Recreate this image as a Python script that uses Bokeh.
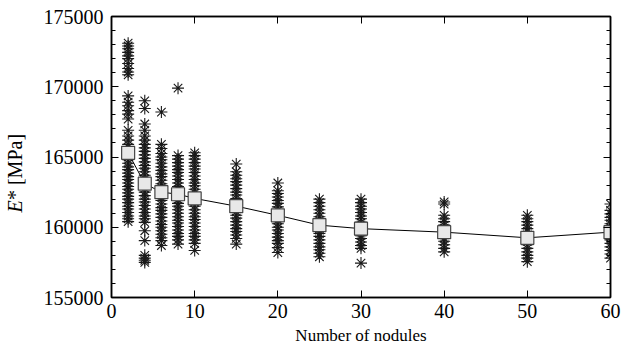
import math
from bokeh.plotting import figure
from bokeh.models import (LinearAxis, FixedTicker, BasicTickFormatter, Range1d, Label)
from bokeh.embed import file_html
from bokeh.resources import INLINE

# ---------------- data ----------------
nodules = [2, 4, 6, 8, 10, 15, 20, 25, 30, 40, 50, 60]

samples_2 = [173100, 172900, 172700, 172450, 172200, 172000, 171650, 171300, 171050, 170850,
             169350, 168900, 168650, 168300, 168050, 167700, 166900,
             166500, 166200, 165900, 165700, 165450, 165200, 165000, 164800, 164550, 164300,
             164100, 163850, 163600, 163400, 163150, 162900, 162700, 162450, 162200, 162000,
             161750, 161500, 161300, 161050, 160800, 160600, 160400]
samples_4 = [169000, 168450, 167350, 166900, 166500, 166200, 165900, 165650, 165400, 165150,
             164900, 164650, 164400, 164200, 163950, 163700, 163450, 163200, 163000, 162750,
             162500, 162250, 162000, 161800, 161550, 161300, 161050, 160800, 160600, 160350,
             159750, 159050, 158000, 157800, 157650, 157500]
samples_6 = [168200, 165900, 165600, 165250, 165000, 164800, 164550, 164300, 164050, 163800,
             163600, 163350, 163100, 162850, 162600, 162400, 162150, 161900, 161650, 161400,
             161200, 160950, 160700, 160450, 160200, 160000, 159750, 159500, 159250, 159050,
             158700]
samples_8 = [169900, 165100, 164850, 164600, 164350, 164100, 163900, 163650, 163400, 163150,
             162900, 162700, 162450, 162200, 161950, 161700, 161500, 161250, 161000, 160750,
             160500, 160300, 160050, 159800, 159550, 159350, 159100, 158800]
samples_10 = [165300, 165100, 164850, 164600, 164350, 164150, 163900, 163650, 163400, 163150,
              162950, 162700, 162450, 162200, 161950, 161750, 161500, 161250, 161000, 160750,
              160550, 160300, 160050, 159800, 159550, 159350, 159100, 158850, 158350]
samples_15 = [164500, 163950, 163700, 163450, 163250, 163000, 162750, 162500, 162300, 162050,
              161800, 161600, 161350, 161100, 160850, 160650, 160400, 160150, 159900, 159700,
              159450, 159200, 158800]
samples_20 = [163150, 162600, 162400, 162150, 161900, 161700, 161450, 161200, 160950, 160750,
              160500, 160250, 160000, 159800, 159550, 159300, 159050, 158850, 158550, 158200]
samples_25 = [162000, 161750, 161500, 161250, 161000, 160750, 160500, 160250, 160050, 159800,
              159550, 159350, 159100, 158850, 158600, 158400, 158150, 157900]
samples_30 = [162000, 161750, 161500, 161300, 161050, 160800, 160600, 160350, 160100, 159900,
              159650, 159400, 159200, 158950, 158700, 158500, 157450]
samples_40 = [161800, 161650, 160850, 160600, 160400, 160150, 159900, 159700, 159450, 159200,
              159000, 158750, 158500, 158250]
samples_50 = [160850, 160600, 160400, 160150, 159900, 159700, 159450, 159200, 159000, 158750,
              158500, 158250, 158000, 157800, 157550]
samples_60 = [161650, 161200, 160950, 160700, 160500, 160250, 160000, 159800, 159550, 159300,
              159100, 158850, 158600, 158350, 158100, 157800]

mean_E = [165300, 163100, 162500, 162350, 162050, 161500, 160850, 160150, 159900, 159650,
          159250, 159650]

y_ticks = [155000, 160000, 165000, 170000, 175000]
x_ticks = [0, 10, 20, 30, 40, 50, 60]

# ---------------- build ----------------
all_samples = [samples_2, samples_4, samples_6, samples_8, samples_10, samples_15,
               samples_20, samples_25, samples_30, samples_40, samples_50, samples_60]
sx, sy = [], []
for n, vals in zip(nodules, all_samples):
    for v in vals:
        sx.append(n)
        sy.append(v)

FONT = "Liberation Serif"

p = figure(width=624, height=350, output_backend="svg", toolbar_location=None,
           x_range=Range1d(0, 60), y_range=Range1d(155000, 175000),
           min_border_left=111, min_border_right=14, min_border_top=16, min_border_bottom=53,
           x_axis_label="Number of nodules", y_axis_label="*  [MPa]   ")
p.background_fill_color = "white"
p.border_fill_color = "white"
p.grid.visible = False
p.outline_line_color = "black"
p.outline_line_width = 1.5

p.scatter(sx, sy, marker="asterisk", size=12, line_color="#1a1a1a", line_width=1.1)
p.line(nodules, mean_E, line_color="black", line_width=1)
p.scatter(nodules, mean_E, marker="square", size=13, fill_color="#e8e8e8",
          line_color="#444444", line_width=1.2)

minor_y = list(range(155000, 175001, 1000))

def style(ax):
    ax.axis_line_color = "black"
    ax.axis_line_width = 1.5
    ax.major_tick_in = 7
    ax.major_tick_out = 0
    ax.minor_tick_in = 4
    ax.minor_tick_out = 0
    ax.major_tick_line_color = "black"
    ax.minor_tick_line_color = "black"
    ax.major_label_text_font = FONT
    ax.major_label_text_font_size = "20px"
    ax.major_label_text_color = "black"
    ax.axis_label_text_font = FONT
    ax.axis_label_text_font_size = "17px"
    ax.axis_label_text_font_style = "normal"
    ax.axis_label_text_color = "black"

xa = p.xaxis[0]
xa.ticker = FixedTicker(ticks=x_ticks)
style(xa)
xa.minor_tick_in = 0
xa.major_label_standoff = 6
xa.axis_label_standoff = 5

ya = p.yaxis[0]
ya.ticker = FixedTicker(ticks=y_ticks, minor_ticks=minor_y)
ya.formatter = BasicTickFormatter(use_scientific=False)
style(ya)
ya.axis_label_text_font_size = "20px"
ya.major_label_standoff = 8
ya.axis_label_standoff = 15

top = LinearAxis(ticker=FixedTicker(ticks=x_ticks),
                 major_label_overrides={t: "" for t in x_ticks})
style(top)
top.minor_tick_in = 0
top.major_label_standoff = 0
p.add_layout(top, "above")

right = LinearAxis(ticker=FixedTicker(ticks=y_ticks, minor_ticks=minor_y),
                   major_label_overrides={t: "" for t in y_ticks})
style(right)
right.major_label_standoff = 0
p.add_layout(right, "right")

# italic E of the y-axis label, placed via the top side panel
p.add_layout(Label(x=-97, y=-196, x_units="screen", y_units="screen", text="E",
                   angle=math.pi / 2, text_font=FONT, text_font_size="20px",
                   text_font_style="italic", text_align="left", text_baseline="middle",
                   text_color="black"), "above")

open("out.html", "w").write(file_html(p, INLINE))
